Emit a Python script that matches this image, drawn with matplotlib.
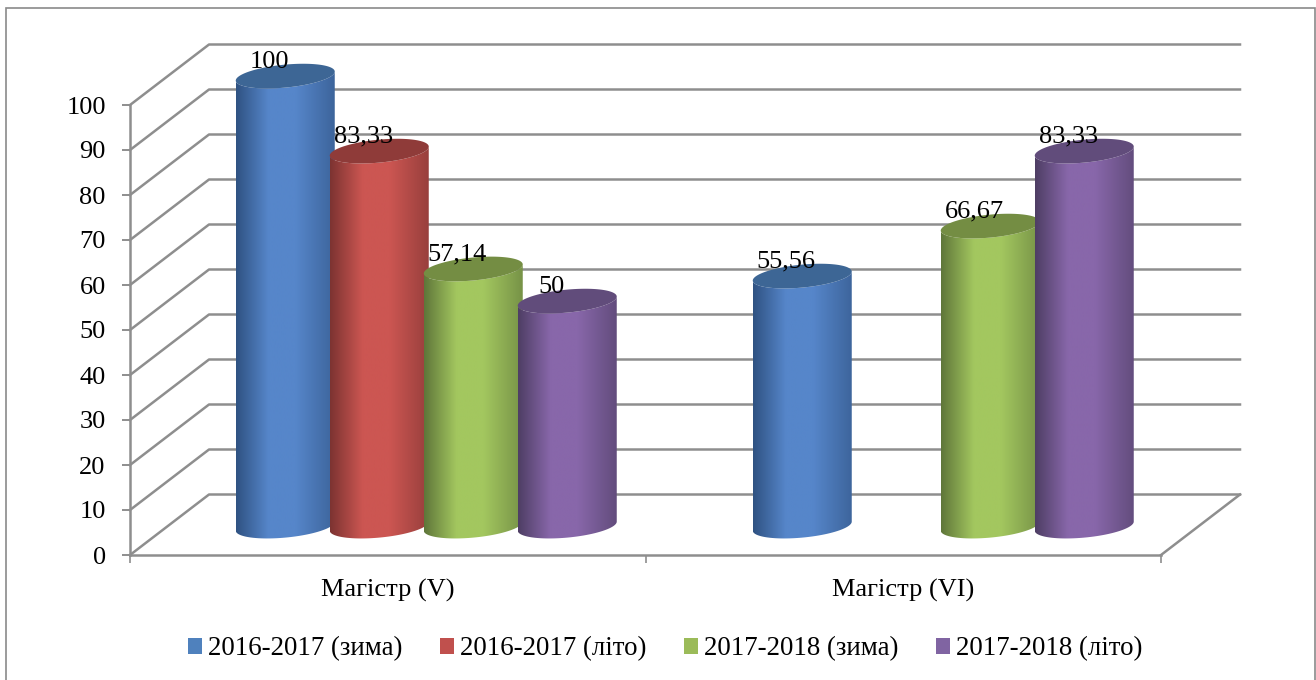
import matplotlib
matplotlib.use('Agg')
import matplotlib.pyplot as plt
import numpy as np
from matplotlib.colors import LinearSegmentedColormap, to_rgb
from matplotlib.patches import Patch, Polygon, Rectangle

plt.rcParams['font.family'] = ['Liberation Serif', 'DejaVu Serif']

categories = ['Магістр (V)', 'Магістр (VI)']
series_names = ['2016-2017 (зима)', '2016-2017 (літо)', '2017-2018 (зима)', '2017-2018 (літо)']
val_2016_zyma = [100, 55.56]
val_2016_lito = [83.33, np.nan]
val_2017_zyma = [57.14, 66.67]
val_2017_lito = [50, 83.33]
y_ticks = list(range(0, 101, 10))

all_series = [val_2016_zyma, val_2016_lito, val_2017_zyma, val_2017_lito]
# legend colour, bright body, dark edge, top of the cylinder
colours = [('#4f81bd', '#5686ca', '#2f5282', '#3d6695'),
           ('#c0504d', '#cc5652', '#7c3331', '#8f3b39'),
           ('#9bbb59', '#a3c75f', '#5f763a', '#748d43'),
           ('#8064a2', '#8867aa', '#4e3e64', '#614c7b')]

GREY = '#8e8e8e'
FS = 19
W, H = 1316, 680

# depth of the fake 3d box, in data units (1 category = 515.5 px, 1 unit = 4.5 px)
DX = 79 / 515.5
DY = 60.5 / 4.5
STEP = 94 / 515.5
RX = 49.5 / 515.5
RY = 11.5 / 4.5
TILT = 4.5 / 4.5


def ellipse(cx, cy, t):
    return cx + RX * np.cos(t), cy + RY * np.sin(t) + TILT * np.cos(t)


fig = plt.figure(figsize=(W / 100, H / 100), dpi=100)
ax = fig.add_axes([130 / W, (H - 555) / H, 1031 / W, 450 / H])
ax.set_xlim(0, 2)
ax.set_ylim(0, 100)

fig.add_artist(Rectangle((5.5 / W, -0.05), 1309.5 / W, 1.05 - 7.5 / H, transform=fig.transFigure,
                         fill=False, edgecolor='#8a8a8a', linewidth=1.2))

# walls
for v in y_ticks:
    ax.plot([0, DX, 2 + DX], [v, v + DY, v + DY], color=GREY, lw=1.8, clip_on=False, zorder=1)
ax.plot([2, 2 + DX], [0, DY], color=GREY, lw=1.8, clip_on=False, zorder=1)

# cylinders
z = 3
for i, cat in enumerate(categories):
    mid = i * (1 + 1.5 / 515.5) + 0.5 + DX / 2 - 1 / 515.5
    for j, vals in enumerate(all_series):
        v = vals[i]
        if np.isnan(v):
            continue
        cx = mid + (j - 1.5) * STEP
        base = DY / 2 - 0.3
        top = base + v
        _, bright, dark, lid = colours[j]

        t = np.linspace(0, np.pi, 80)
        xb, yb = ellipse(cx, base, -t)
        xt, yt = ellipse(cx, top, -t)
        outline = np.column_stack([np.r_[xb, xt[::-1]], np.r_[yb, yt[::-1]]])
        body = Polygon(outline, closed=True, transform=ax.transData, facecolor='none', edgecolor='none')
        ax.add_patch(body)
        body.set_clip_on(False)

        right = 0.65 * np.array(to_rgb(dark)) + 0.35 * np.array(to_rgb(bright))
        cmap = LinearSegmentedColormap.from_list(
            'c', [(0, dark), (0.33, bright), (0.6, bright), (1, right)])
        grad = np.linspace(0, 1, 256).reshape(1, -1)
        im = ax.imshow(grad, cmap=cmap, aspect='auto', interpolation='bilinear', zorder=z,
                       extent=[cx - RX, cx + RX, base - RY - 2, top + RY + 2])
        im.set_clip_box(fig.bbox)
        im.set_clip_path(body)

        t = np.linspace(0, 2 * np.pi, 120)
        xt, yt = ellipse(cx, top, t)
        ax.add_patch(Polygon(np.column_stack([xt, yt]), closed=True, facecolor=lid, edgecolor='none',
                             clip_on=False, zorder=z + 0.5))
        ax.annotate(f'{v:g}'.replace('.', ','), (cx, top), xytext=(-11.5, 10.5), textcoords='offset points',
                    ha='center', va='center', fontsize=FS, color='black', zorder=20, annotation_clip=False)
        z += 1

ax.set_xlim(0, 2)
ax.set_ylim(0, 100)

for s in ['top', 'right']:
    ax.spines[s].set_visible(False)
for s in ['left', 'bottom']:
    ax.spines[s].set_color(GREY)
    ax.spines[s].set_linewidth(1.8)
    ax.spines[s].set_zorder(2)

ax.set_yticks(y_ticks)
ax.tick_params(axis='y', length=5.5, width=1.4, color=GREY, pad=12, labelsize=FS)
ax.set_xticks([0, 1, 2])
ax.set_xticklabels([])
ax.tick_params(axis='x', which='major', length=5.5, width=1.2, color=GREY)
ax.set_xticks([0.5, 1.5], minor=True)
ax.set_xticklabels(categories, minor=True)
ax.tick_params(axis='x', which='minor', length=0, pad=17.5, labelsize=FS)
ax.patch.set_visible(False)

handles = [Patch(facecolor=c[0], edgecolor='none') for c in colours]
fig.legend(handles, series_names, ncol=4, frameon=False, loc='center', bbox_to_anchor=(665.5 / W, (H - 649) / H),
           fontsize=19.4, handlelength=0.52, handleheight=0.52, handletextpad=0.22, columnspacing=1.4,
           borderpad=0, borderaxespad=0)

fig.savefig('out.png', dpi=100)
